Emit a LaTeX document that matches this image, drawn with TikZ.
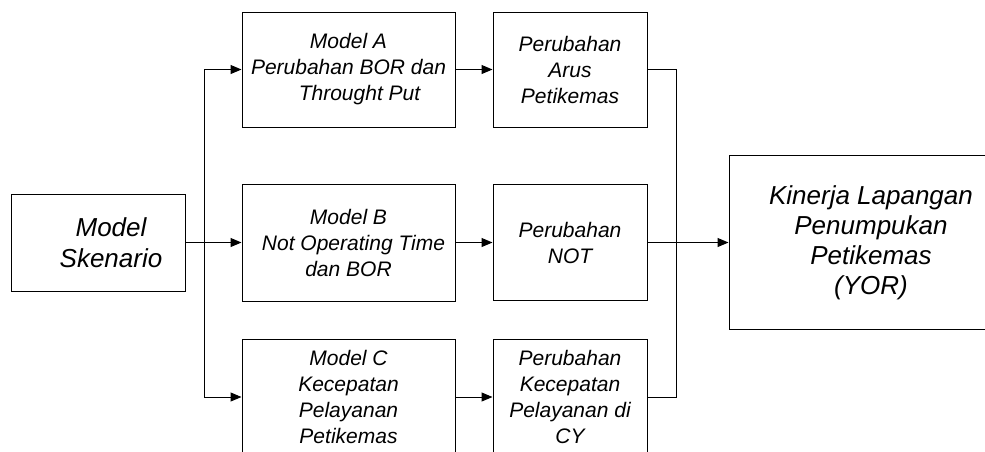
\documentclass[tikz,border=0pt]{standalone}
\usepackage{fontspec}
\setmainfont{Liberation Sans}
\usetikzlibrary{arrows.meta}
\begin{document}
\begin{tikzpicture}[x=1pt,y=-1pt,
  box/.style={draw=black,line width=1pt,inner sep=0pt,align=center},
  smalltxt/.style={font=\fontsize{21}{26}\selectfont\itshape},
  bigtxt/.style={font=\fontsize{26}{30}\selectfont\itshape},
  conn/.style={line width=1pt,draw=black},
  arr/.style={conn,-{Triangle[length=11pt,width=9pt]}}]
\clip (0,0) rectangle (985,451);
% boxes
\node[box,minimum width=174pt,minimum height=97pt] (sk) at (98,242.5) {};
\node[bigtxt,align=center,font=\fontsize{26}{31}\selectfont\itshape] (skt) at (111,242.5) {Model\\Skenario};
\node[box,smalltxt,minimum width=213pt,minimum height=115pt] (ma) at (348.5,69.5) {Model A\\Perubahan BOR dan\\\hspace*{22pt}Throught Put};
\node[box,smalltxt,minimum width=213pt,minimum height=117pt] (mb) at (348.5,242.5) {Model B\\\hspace*{10pt}Not Operating Time\\dan BOR};
\node[box,smalltxt,minimum width=213pt,minimum height=116pt] (mc) at (348.5,397) {Model C\\Kecepatan\\Pelayanan\\Petikemas};
\node[box,smalltxt,minimum width=154pt,minimum height=115pt] (pa) at (570,69.5) {Perubahan\\Arus\\Petikemas};
\node[box,smalltxt,minimum width=154pt,minimum height=116pt] (pb) at (570,242.5) {Perubahan\\NOT};
\node[box,smalltxt,minimum width=154pt,minimum height=116pt] (pc) at (570,397) {Perubahan\\Kecepatan\\Pelayanan di\\CY};
\node[box,bigtxt,minimum width=284pt,minimum height=174pt] (kn) at (871,242.5) {Kinerja Lapangan\\Penumpukan\\Petikemas\\(YOR)};
% connectors
\coordinate (jt) at (204,69.5);
\coordinate (jb) at (204,397);
\coordinate (rt) at (676,69.5);
\coordinate (rb) at (676,397);
\draw[arr] (sk.east) -- (mb.west);
\draw[conn] (jt) -- (jb);
\draw[arr] (jt) -- (ma.west);
\draw[arr] (jb) -- (mc.west);
\draw[arr] (ma.east) -- (pa.west);
\draw[arr] (mb.east) -- (pb.west);
\draw[arr] (mc.east) -- (pc.west);
\draw[conn] (pa.east) -- (rt) -- (rb) -- (pc.east);
\draw[arr] (pb.east) -- (kn.west);
\end{tikzpicture}
\end{document}
